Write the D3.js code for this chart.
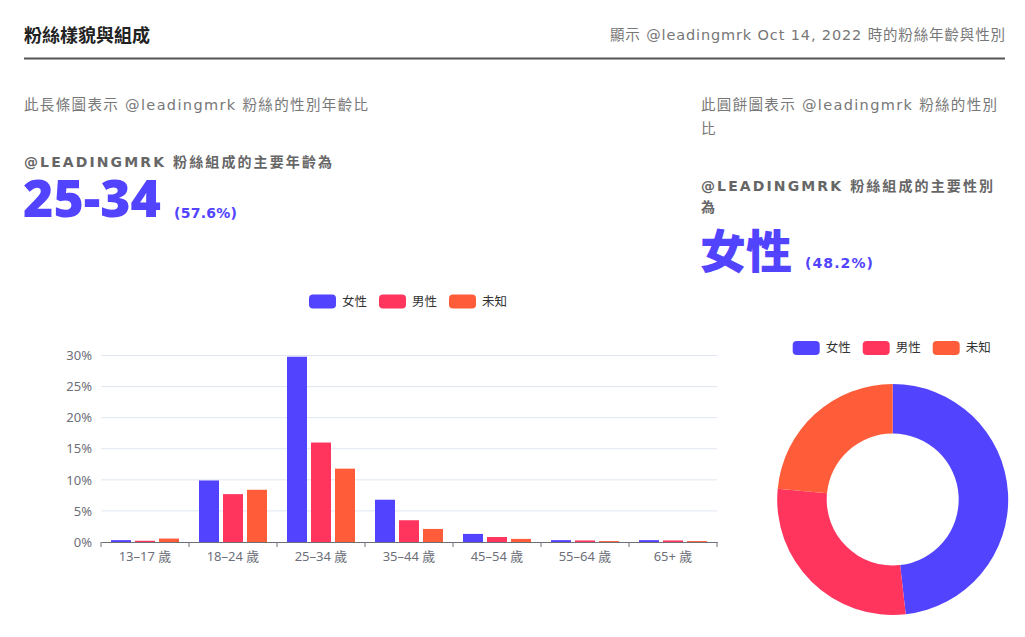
<!DOCTYPE html>
<head>
  <meta charset="utf-8">
  <title>粉絲樣貌與組成</title>
  <script src="https://d3js.org/d3.v7.min.js"></script>
  <style>
    body { margin: 0; background: #fff; }
    svg { display: block; }
    text { font-family: "Noto Sans", "Noto Sans CJK TC", sans-serif; }
    text.wide { font-family: "DejaVu Sans", "Noto Sans CJK TC", sans-serif; }
  </style>
</head>
<body>
<svg width="1025" height="637"></svg>

<script type="text/javascript">

// age groups on the bar chart and the three gender series (percent of fans)
var ageGroups = ["13–17 歲", "18–24 歲", "25–34 歲", "35–44 歲", "45–54 歲", "55–64 歲", "65+ 歲"];
var genders = ["女性", "男性", "未知"];
var femaleShare  = [0.3, 9.9, 29.8, 6.8, 1.3, 0.3, 0.3];
var maleShare    = [0.2, 7.7, 16.0, 3.5, 0.8, 0.25, 0.25];
var unknownShare = [0.55, 8.4, 11.8, 2.1, 0.5, 0.15, 0.15];
// doughnut: share of each gender
var genderTotals = [48.2, 28.3, 23.5];
var yTicks = [0, 5, 10, 15, 20, 25, 30];

var colors = ["#5243fe", "#ff355e", "#ff5c39"];
var series = [femaleShare, maleShare, unknownShare];

var svg = d3.select("svg");

// small helper: a line of text stretched (spacing only) to the width seen in the picture
function label(x, y, txt, size, weight, fill, width, anchor, cls) {
  var t = svg.append("text")
    .attr("class", cls || null)
    .attr("x", x).attr("y", y)
    .attr("text-anchor", anchor || "start")
    .style("font-size", size + "px").style("font-weight", weight).style("fill", fill)
    .text(txt);
  if (width) t.attr("textLength", width).attr("lengthAdjust", "spacing");
  return t;
}

// ---- header ----
label(24, 42, "粉絲樣貌與組成", 18, 700, "#222", 126);
label(1005, 40, "顯示 @leadingmrk Oct 14, 2022 時的粉絲年齡與性別", 14.5, 400, "#777", 395, "end", "wide");

svg.append("line")
  .attr("x1", 24).attr("x2", 1005).attr("y1", 58.5).attr("y2", 58.5)
  .style("stroke", "#555").style("stroke-width", 2.2);

// ---- left summary ----
label(24, 110, "此長條圖表示 @leadingmrk 粉絲的性別年齡比", 14.5, 400, "#777", 344, null, "wide");
label(24, 167, "@LEADINGMRK 粉絲組成的主要年齡為", 14, 700, "#666", 308, null, "wide");

svg.append("text")
  .attr("x", 23).attr("y", 217)
  .style("font-size", "52px").style("font-weight", 900).style("fill", colors[0])
  .attr("textLength", 138).attr("lengthAdjust", "spacingAndGlyphs")
  .text("25-34");

label(174, 218, "(57.6%)", 14, 700, colors[0], 63, null, "wide");

// ---- right summary ----
label(701, 110, "此圓餅圖表示 @leadingmrk 粉絲的性別", 14.5, 400, "#777", 296, null, "wide");
label(701, 134, "比", 14.5, 400, "#777");

label(701, 191, "@LEADINGMRK 粉絲組成的主要性別", 14, 700, "#666", 292, null, "wide");
label(701, 212, "為", 14, 700, "#666");

svg.append("text")
  .attr("x", 700).attr("y", 268)
  .style("font-size", "46px").style("font-weight", 900).style("fill", colors[0])
  .style("font-family", "'Noto Sans CJK TC', sans-serif")
  .text("女性");

label(805, 268, "(48.2%)", 14, 700, colors[0], 68, null, "wide");

// ---- legends ----
function drawLegend(cx, cy) {
  var itemW = [70, 70, 60];
  var total = 200;
  var g = svg.append("g").attr("transform", "translate(" + (cx - total / 2) + "," + cy + ")");
  var off = 0;
  genders.forEach(function(name, i) {
    var item = g.append("g").attr("transform", "translate(" + off + ",0)");
    item.append("rect")
      .attr("x", 0).attr("y", -7).attr("width", 27).attr("height", 14)
      .attr("rx", 4).attr("ry", 4)
      .style("fill", colors[i]);
    item.append("text")
      .attr("x", 33).attr("y", 0).attr("dy", "0.35em")
      .style("font-size", "12.5px").style("fill", "#333")
      .text(name);
    off += itemW[i];
  });
}

// ---- bar chart ----
var x = d3.scaleBand().domain(ageGroups).range([101, 717]);
var x1 = d3.scaleBand().domain(genders).range([10, 78]).paddingInner(4 / 24);
var y = d3.scaleLinear().domain([0, 30]).range([542, 355.5]);

drawLegend(409, 301.5);

svg.append("g").selectAll("line")
  .data(yTicks.slice(1))
  .enter().append("line")
    .attr("x1", 101).attr("x2", 717)
    .attr("y1", function(d) { return y(d); })
    .attr("y2", function(d) { return y(d); })
    .style("stroke", "#e0e6f1").style("stroke-width", 1);

var yAxis = svg.append("g")
  .attr("transform", "translate(101,0)")
  .call(d3.axisLeft(y).tickValues(yTicks).tickSize(0).tickPadding(9)
    .tickFormat(function(d) { return d + "%"; }));
yAxis.select(".domain").remove();
yAxis.selectAll("text").style("font-size", "13px").style("fill", "#6e7079")
  .style("font-family", "'Noto Sans', sans-serif");

var groups = svg.append("g").selectAll("g")
  .data(ageGroups)
  .enter().append("g")
    .attr("transform", function(d) { return "translate(" + x(d) + ",0)"; });

groups.selectAll("rect")
  .data(function(d, i) { return series.map(function(s, k) { return { g: genders[k], v: s[i], c: colors[k] }; }); })
  .enter().append("rect")
    .attr("x", function(d) { return x1(d.g); })
    .attr("width", x1.bandwidth())
    .attr("y", function(d) { return y(d.v); })
    .attr("height", function(d) { return y(0) - y(d.v); })
    .style("fill", function(d) { return d.c; });

var xAxis = svg.append("g")
  .attr("transform", "translate(0," + y(0) + ")")
  .call(d3.axisBottom(x).tickSize(0).tickPadding(10));
xAxis.select(".domain").style("stroke", "#6e7079");
xAxis.selectAll("text").style("font-size", "13px").style("fill", "#6e7079")
  .style("font-family", "'Noto Sans', 'Noto Sans CJK TC', sans-serif");

// boundary ticks between categories
svg.append("g").selectAll("line")
  .data(ageGroups.concat(["end"]))
  .enter().append("line")
    .attr("x1", function(d) { return d === "end" ? x.range()[1] : x(d); })
    .attr("x2", function(d) { return d === "end" ? x.range()[1] : x(d); })
    .attr("y1", y(0)).attr("y2", y(0) + 5)
    .style("stroke", "#6e7079");

// ---- doughnut ----
drawLegend(892.7, 348);

var pie = d3.pie().sort(null).value(function(d) { return d; });
var arc = d3.arc().innerRadius(66).outerRadius(115.5);

svg.append("g")
  .attr("transform", "translate(892.7,499.5)")
  .selectAll("path")
  .data(pie(genderTotals))
  .enter().append("path")
    .attr("d", arc)
    .style("fill", function(d, i) { return colors[i]; });

</script>
</body>
</html>
